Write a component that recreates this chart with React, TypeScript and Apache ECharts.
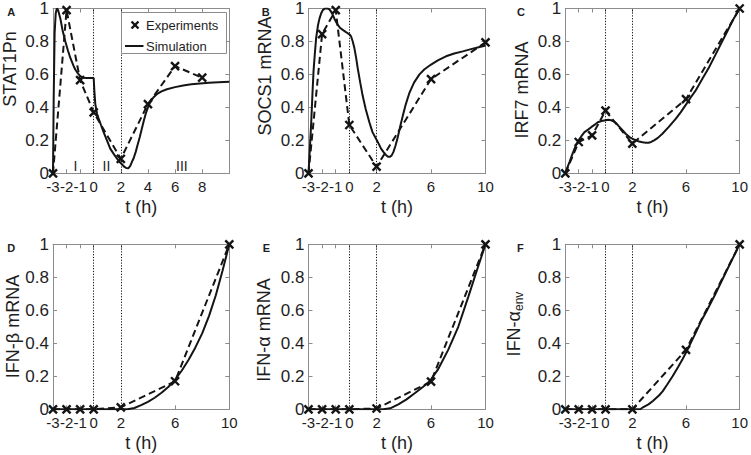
import React, { useEffect, useRef } from "react";
import * as echarts from "echarts";

const panelLetters = ["A", "B", "C", "D", "E", "F"];
const yNames = ["STAT1Pn", "SOCS1 mRNA", "IRF7 mRNA", "IFN-β mRNA", "IFN-α mRNA", "{n|IFN-α}{sub|env}"];
const xTicksA = [-3, -2, -1, 0, 2, 4, 6, 8];
const xTicksOther = [-3, -2, -1, 0, 2, 6, 10];
const phaseLines = [0, 2];
const regionLabels = [
  { t: -1.35, y: 0.045, text: "I" },
  { t: 0.94, y: 0.045, text: "II" },
  { t: 6.5, y: 0.045, text: "III" },
];
const legendLabels = ["Experiments", "Simulation"];

// Experiments (t, value)
const expA = [[-3, 0], [-2, 0.99], [-1, 0.565], [0, 0.37], [2, 0.088], [4, 0.42], [6, 0.65], [8, 0.58]];
const expB = [[-3, 0], [-2, 0.845], [-1, 0.99], [0, 0.293], [2, 0.04], [6, 0.572], [10, 0.794]];
const expC = [[-3, 0], [-2, 0.19], [-1, 0.23], [0, 0.38], [2, 0.18], [6, 0.45], [10, 1.0]];
const expD = [[-3, 0], [-2, 0], [-1, 0], [0, 0], [2, 0.012], [6, 0.17], [10, 1.0]];
const expE = [[-3, 0], [-2, 0], [-1, 0], [0, 0], [2, 0.005], [6, 0.168], [10, 1.0]];
const expF = [[-3, 0], [-2, 0], [-1, 0], [0, 0], [2, 0], [6, 0.36], [10, 1.0]];

// Simulation (t, value)
const simA = [
  [-3, 0], [-2.95, 0.45], [-2.88, 0.85], [-2.8, 0.97], [-2.72, 1.0], [-2.62, 0.99], [-2.46, 0.94],
  [-2.3, 0.87], [-2.09, 0.8], [-1.9, 0.745], [-1.72, 0.7], [-1.5, 0.655], [-1.36, 0.63], [-1.15, 0.605],
  [-0.99, 0.59], [-0.8, 0.58], [-0.5, 0.578], [-0.2, 0.578], [0, 0.578], [0.05, 0.5], [0.12, 0.42],
  [0.25, 0.36], [0.36, 0.333], [0.55, 0.29], [0.73, 0.25], [1.0, 0.195], [1.22, 0.15], [1.5, 0.115],
  [1.71, 0.09], [1.9, 0.07], [2.08, 0.055], [2.25, 0.04], [2.4, 0.032], [2.55, 0.03], [2.7, 0.045],
  [2.85, 0.075], [2.94, 0.09], [3.1, 0.13], [3.23, 0.17], [3.4, 0.22], [3.55, 0.27], [3.7, 0.32],
  [3.87, 0.37], [4.0, 0.4], [4.16, 0.43], [4.4, 0.46], [4.65, 0.48], [5.0, 0.497], [5.4, 0.51],
  [6.0, 0.523], [6.6, 0.533], [7.2, 0.54], [7.84, 0.545], [8.5, 0.55], [9.2, 0.553], [10, 0.556],
];
const simB = [
  [-3, 0], [-2.9, 0.15], [-2.8, 0.31], [-2.7, 0.5], [-2.63, 0.62], [-2.54, 0.72], [-2.44, 0.82],
  [-2.3, 0.9], [-2.19, 0.94], [-2.05, 0.975], [-1.95, 0.99], [-1.8, 1.0], [-1.6, 1.0], [-1.46, 0.995],
  [-1.3, 0.975], [-1.21, 0.96], [-1.05, 0.93], [-0.85, 0.9], [-0.65, 0.88], [-0.48, 0.87], [-0.3, 0.86],
  [-0.12, 0.85], [0.05, 0.84], [0.13, 0.83], [0.25, 0.8], [0.37, 0.76], [0.5, 0.7], [0.61, 0.64],
  [0.8, 0.55], [0.98, 0.47], [1.2, 0.39], [1.47, 0.31], [1.7, 0.25], [1.96, 0.21], [2.15, 0.18],
  [2.33, 0.15], [2.5, 0.13], [2.7, 0.11], [2.85, 0.1], [2.99, 0.1], [3.12, 0.11], [3.24, 0.13],
  [3.4, 0.17], [3.56, 0.22], [3.75, 0.29], [3.93, 0.35], [4.15, 0.42], [4.42, 0.49], [4.75, 0.55],
  [5.15, 0.6], [5.5, 0.63], [6.0, 0.66], [6.5, 0.685], [7.1, 0.71], [7.7, 0.727], [8.33, 0.74],
  [9.0, 0.755], [9.5, 0.765], [10, 0.775],
];
const simC = [
  [-3, 0], [-2.85, 0.035], [-2.68, 0.07], [-2.5, 0.11], [-2.31, 0.15], [-2.15, 0.18], [-2.01, 0.2],
  [-1.8, 0.225], [-1.57, 0.25], [-1.3, 0.265], [-1.07, 0.28], [-0.8, 0.295], [-0.58, 0.31], [-0.3, 0.317],
  [0, 0.322], [0.2, 0.325], [0.42, 0.322], [0.6, 0.315], [0.79, 0.305], [1.0, 0.285], [1.28, 0.26],
  [1.5, 0.24], [1.78, 0.22], [2.0, 0.21], [2.27, 0.2], [2.5, 0.193], [2.76, 0.188], [3.0, 0.185],
  [3.2, 0.185], [3.4, 0.19], [3.62, 0.2], [3.9, 0.215], [4.24, 0.24], [4.7, 0.28], [5.23, 0.33],
  [5.6, 0.37], [6.02, 0.42], [6.35, 0.46], [6.7, 0.5], [7.2, 0.57], [7.7, 0.64], [8.2, 0.72],
  [8.69, 0.8], [9.1, 0.865], [9.5, 0.93], [10, 1.0],
];
const simD = [
  [-3, 0], [0, 0], [2, 0], [2.5, 0], [3, 0.008], [3.5, 0.025], [4, 0.045], [4.5, 0.07], [5, 0.1],
  [5.5, 0.135], [6, 0.18], [6.5, 0.235], [7, 0.3], [7.5, 0.375], [8, 0.46], [8.5, 0.565], [9, 0.69],
  [9.5, 0.84], [10, 1.0],
];
const simE = [
  [-3, 0], [0, 0], [2, 0], [2.5, 0], [3, 0.006], [3.6, 0.03], [4.2, 0.06], [4.8, 0.097], [5.4, 0.135],
  [5.9, 0.17], [6.5, 0.24], [7.26, 0.36], [8.0, 0.5], [8.73, 0.68], [9.4, 0.85], [10, 1.0],
];
const simF = [
  [-3, 0], [0, 0], [2, 0], [2.6, 0], [2.79, 0.012], [3.2, 0.03], [3.53, 0.05], [4.0, 0.085],
  [4.27, 0.11], [4.6, 0.15], [5.0, 0.2], [5.4, 0.255], [5.75, 0.305], [6.07, 0.355], [6.4, 0.41],
  [6.73, 0.465], [7.1, 0.53], [7.5, 0.59], [8.2, 0.7], [9.0, 0.835], [10, 1.0],
];

const experiments = [expA, expB, expC, expD, expE, expF];
const simulations = [simA, simB, simC, simD, simE, simF];

const FONT = "'Liberation Sans', Arial, Helvetica, sans-serif";
const AXIS_GRAY = "#8c8c8c";
const TEXT = "#1e1e1e";
const LINE = "#141414";

const colLeft = [53, 308.5, 565.3];
const colWidth = [176.3, 177, 175.4];
const rowTop = [8.3, 244.3];
const rowHeight = 165;
// centre of each rotated y-axis title, as placed in the reference
const yNamePos = [[9.5, 69], [265, 76], [521.7, 90], [12.5, 326.5], [264, 330], [514.5, 324]];
const letterPos = [[7.3, 6], [261.7, 6], [517, 6], [7.3, 242], [262.7, 242], [517, 242]];

const crossPath = "path://M0,0L10,10M10,0L0,10";

export default function App() {
  const ref = useRef<HTMLDivElement>(null);
  useEffect(() => {
    document.body.style.margin = "0";
    if (!ref.current) return;
    const chart = echarts.init(ref.current, undefined, { renderer: "svg" });

    const grids: any[] = [];
    const xAxes: any[] = [];
    const yAxes: any[] = [];
    const series: any[] = [];

    for (let i = 0; i < 6; i++) {
      const col = i % 3;
      const row = Math.floor(i / 3);
      grids.push({
        left: colLeft[col],
        top: rowTop[row],
        width: colWidth[col],
        height: rowHeight,
        show: false,
        containLabel: false,
      });
      const ticks = i === 0 ? xTicksA : xTicksOther;
      const baseX = {
        type: "value",
        gridIndex: i,
        min: -3,
        max: 10,
        splitLine: { show: false },
        axisLine: { show: true, onZero: false, lineStyle: { color: AXIS_GRAY, width: 1 } },
        axisTick: { show: true, inside: true, length: 4, customValues: ticks, lineStyle: { color: AXIS_GRAY } },
      };
      xAxes.push({
        ...baseX,
        position: "bottom",
        axisLabel: {
          customValues: ticks,
          color: TEXT,
          fontSize: 15,
          fontFamily: FONT,
          margin: 6,
          showMinLabel: true,
          showMaxLabel: true,
          hideOverlap: false,
        },
        name: "t (h)",
        nameLocation: "middle",
        nameGap: 25,
        nameTextStyle: { color: TEXT, fontSize: 18, fontFamily: FONT },
      });
      xAxes.push({ ...baseX, position: "top", axisLabel: { show: false } });

      const baseY = {
        type: "value",
        gridIndex: i,
        min: 0,
        max: 1,
        interval: 0.2,
        splitLine: { show: false },
        axisLine: { show: true, onZero: false, lineStyle: { color: AXIS_GRAY, width: 1 } },
        axisTick: { show: true, inside: true, length: 4, lineStyle: { color: AXIS_GRAY } },
      };
      yAxes.push({
        ...baseY,
        position: "left",
        axisLabel: {
          color: TEXT,
          fontSize: 17,
          fontFamily: FONT,
          margin: 4,
          showMinLabel: true,
          showMaxLabel: true,
          formatter: (v: number) => String(Math.round(v * 10) / 10),
        },
      });
      yAxes.push({ ...baseY, position: "right", axisLabel: { show: false } });

      series.push({
        type: "line",
        xAxisIndex: 2 * i,
        yAxisIndex: 2 * i,
        data: simulations[i],
        showSymbol: false,
        lineStyle: { color: LINE, width: 2 },
        z: 3,
        silent: true,
      });
      series.push({
        type: "line",
        xAxisIndex: 2 * i,
        yAxisIndex: 2 * i,
        data: experiments[i],
        showSymbol: false,
        lineStyle: { color: LINE, width: 2, type: [7, 4] },
        z: 3,
        silent: true,
        markLine: {
          silent: true,
          symbol: ["none", "none"],
          label: { show: false },
          lineStyle: { color: "#111", type: [1.2, 1.6], width: 1 },
          data: phaseLines.map((v) => ({ xAxis: v })),
        },
      });
      series.push({
        type: "scatter",
        xAxisIndex: 2 * i,
        yAxisIndex: 2 * i,
        data: experiments[i],
        symbol: crossPath,
        symbolSize: 8,
        itemStyle: { color: LINE, borderColor: LINE, borderWidth: 2.4, opacity: 1 },
        z: 4,
        silent: true,
      });
    }

    series.push({
      type: "custom",
      xAxisIndex: 0,
      yAxisIndex: 0,
      silent: true,
      z: 5,
      data: regionLabels.map((r) => [r.t, r.y]),
      renderItem: (params: any, api: any) => {
        const p = api.coord([api.value(0), api.value(1)]);
        return {
          type: "text",
          x: p[0],
          y: p[1],
          style: {
            text: regionLabels[params.dataIndex].text,
            fill: TEXT,
            font: `14px ${FONT}`,
            align: "center",
            verticalAlign: "middle",
          },
        };
      },
    });

    const graphics: any[] = panelLetters.map((L, i) => ({
      type: "text",
      x: letterPos[i][0],
      y: letterPos[i][1],
      style: { text: L, font: `bold 11px ${FONT}`, fill: TEXT },
      z: 100,
    }));
    yNames.forEach((nm, i) => {
      graphics.push({
        type: "text",
        x: yNamePos[i][0],
        y: yNamePos[i][1],
        rotation: Math.PI / 2,
        style: {
          text: nm,
          font: `18px ${FONT}`,
          fill: TEXT,
          align: "center",
          verticalAlign: "middle",
          rich: {
            n: { fontSize: 18, fontFamily: FONT, fill: TEXT, lineHeight: 20, verticalAlign: "top" },
            sub: { fontSize: 12, fontFamily: FONT, fill: TEXT, lineHeight: 12, verticalAlign: "bottom", padding: [11, 0, 0, 0] },
          },
        },
        z: 100,
      });
    });
    graphics.push({
      type: "rect",
      shape: { x: 121.5, y: 12.5, width: 105, height: 41 },
      style: { fill: "#fff", stroke: AXIS_GRAY, lineWidth: 1 },
      z: 100,
    });
    graphics.push({
      type: "line",
      shape: { x1: 131.5, y1: 21.5, x2: 138.5, y2: 28.5 },
      style: { stroke: LINE, lineWidth: 2.4 },
      z: 101,
    });
    graphics.push({
      type: "line",
      shape: { x1: 138.5, y1: 21.5, x2: 131.5, y2: 28.5 },
      style: { stroke: LINE, lineWidth: 2.4 },
      z: 101,
    });
    graphics.push({
      type: "text",
      x: 146,
      y: 25,
      style: { text: legendLabels[0], font: `13px ${FONT}`, fill: TEXT, verticalAlign: "middle" },
      z: 101,
    });
    graphics.push({
      type: "line",
      shape: { x1: 125, y1: 46, x2: 143.5, y2: 46 },
      style: { stroke: LINE, lineWidth: 2 },
      z: 101,
    });
    graphics.push({
      type: "text",
      x: 146,
      y: 46,
      style: { text: legendLabels[1], font: `13px ${FONT}`, fill: TEXT, verticalAlign: "middle" },
      z: 101,
    });

    chart.setOption({
      animation: false,
      backgroundColor: "#fff",
      grid: grids,
      xAxis: xAxes,
      yAxis: yAxes,
      series,
      graphic: graphics,
    });
    return () => chart.dispose();
  }, []);
  return <div ref={ref} style={{ width: 751, height: 455 }} />;
}
